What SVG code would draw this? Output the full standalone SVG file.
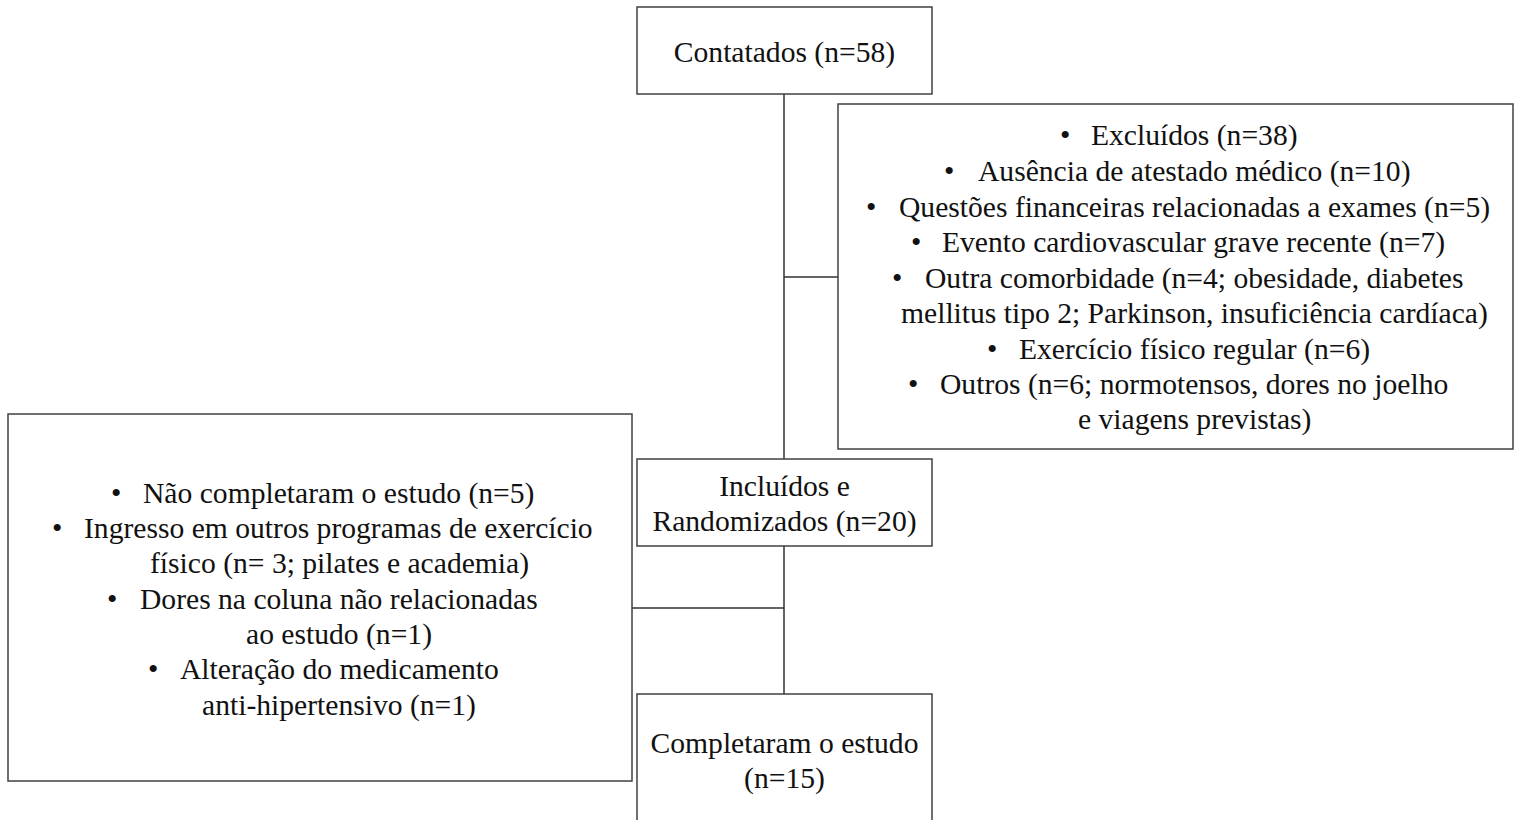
<svg xmlns="http://www.w3.org/2000/svg" width="1517" height="820" viewBox="0 0 1517 820">
<style>
.box{fill:#fff;stroke:#404040;stroke-width:1.5}
.ln{stroke:#303030;stroke-width:1.5;fill:none}
text{font-family:"Liberation Serif","Times New Roman",serif;font-size:29.6px;fill:#111}
.c{text-anchor:middle}
</style>
<rect width="1517" height="820" fill="#fff"/>
<g id="connectors">
<line class="ln" x1="784" y1="94" x2="784" y2="459"/>
<line class="ln" x1="784" y1="277" x2="838" y2="277"/>
<line class="ln" x1="784" y1="546" x2="784" y2="694"/>
<line class="ln" x1="632" y1="608" x2="784" y2="608"/>
</g>
<g id="contatados">
<rect class="box" x="637" y="7" width="295" height="87"/>
<text class="c" x="784.5" y="62">Contatados (n=58)</text>
</g>
<g id="excluidos">
<rect class="box" x="838" y="104" width="675" height="345"/>
<text x="1060" y="145">•</text><text x="1091" y="145">Excluídos (n=38)</text>
<text x="944" y="181">•</text><text x="978" y="181">Ausência de atestado médico (n=10)</text>
<text x="866" y="217">•</text><text x="899" y="217">Questões financeiras relacionadas a exames (n=5)</text>
<text x="911" y="252">•</text><text x="942" y="252">Evento cardiovascular grave recente (n=7)</text>
<text x="892" y="288">•</text><text x="925" y="288">Outra comorbidade (n=4; obesidade, diabetes</text>
<text x="901" y="323">mellitus tipo 2; Parkinson, insuficiência cardíaca)</text>
<text x="987" y="359">•</text><text x="1019" y="359">Exercício físico regular (n=6)</text>
<text x="908" y="394">•</text><text x="940" y="394">Outros (n=6; normotensos, dores no joelho</text>
<text x="1078" y="429">e viagens previstas)</text>
</g>
<g id="incluidos">
<rect class="box" x="637" y="459" width="295" height="87"/>
<text class="c" x="784.5" y="496">Incluídos e</text>
<text class="c" x="784.5" y="531">Randomizados (n=20)</text>
</g>
<g id="nao-completaram">
<rect class="box" x="8" y="414" width="624" height="367"/>
<text x="111" y="503">•</text><text x="143" y="503">Não completaram o estudo (n=5)</text>
<text x="52" y="538">•</text><text x="84" y="538">Ingresso em outros programas de exercício</text>
<text x="150" y="573">físico (n= 3; pilates e academia)</text>
<text x="107" y="609">•</text><text x="140" y="609">Dores na coluna não relacionadas</text>
<text x="246" y="644">ao estudo (n=1)</text>
<text x="148" y="679">•</text><text x="180" y="679">Alteração do medicamento</text>
<text x="202" y="715">anti-hipertensivo (n=1)</text>
</g>
<g id="completaram">
<rect class="box" x="637" y="694" width="295" height="140"/>
<text class="c" x="784.5" y="753">Completaram o estudo</text>
<text class="c" x="784.5" y="788">(n=15)</text>
</g>
</svg>
